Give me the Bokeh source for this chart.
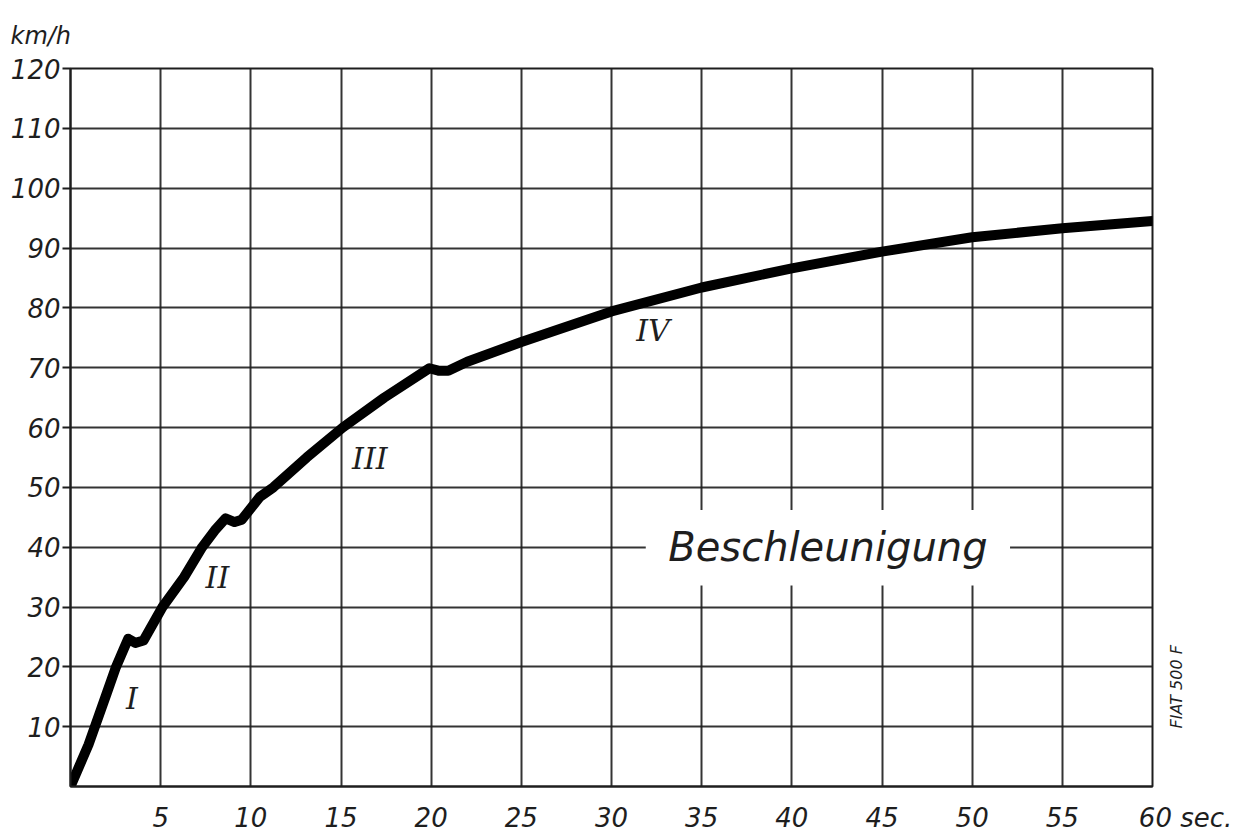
from bokeh.plotting import figure
from bokeh.models import Range1d, FixedTicker, BoxAnnotation, ColumnDataSource, LinearAxis, Title, Label
from bokeh.core.properties import value
from bokeh.embed import file_html
from bokeh.resources import INLINE
import math

# Data (time in seconds, speed in km/h)
time_s = [0, 1.0, 2.0, 2.5, 3.0, 3.2, 3.6, 4.05, 5.1, 6.3, 7.3, 8.0, 8.6, 9.1, 9.5, 10.5, 11.25, 13.1, 15.1, 17.4, 19.9, 20.4, 20.95, 22.0, 25, 30, 35, 40, 45, 50, 55, 60]
speed_kmh = [0, 7.0, 15.5, 19.8, 23.3, 24.7, 24.0, 24.4, 30.0, 35.0, 40.0, 42.8, 44.8, 44.2, 44.6, 48.4, 50.0, 55.0, 60.0, 65.0, 69.9, 69.5, 69.5, 71.0, 74.3, 79.4, 83.4, 86.6, 89.4, 91.8, 93.3, 94.5]

x_ticks = [5, 10, 15, 20, 25, 30, 35, 40, 45, 50, 55, 60]
y_ticks = [10, 20, 30, 40, 50, 60, 70, 80, 90, 100, 110, 120]
x_unit = "sec."
y_unit = "km/h"
chart_title = "Beschleunigung"
model_note = "FIAT 500 F"
note_pos = [9.7]

gear_labels = ["I", "II", "III", "IV"]
gear_x = [3.4, 8.15, 16.6, 32.3]
gear_y = [14.7, 34.9, 54.8, 76.2]

FONT = "DejaVu Sans"
INK = "#1e1e1e"

p = figure(width=1260, height=838, output_backend="svg", toolbar_location=None,
           x_range=Range1d(0, 60), y_range=Range1d(0, 120),
           min_border_left=70, min_border_right=108, min_border_top=68, min_border_bottom=52)
p.background_fill_color = "white"
p.border_fill_color = "white"
p.outline_line_color = INK
p.outline_line_width = 2

for ax in (p.xaxis[0], p.yaxis[0]):
    ax.major_label_text_font = FONT
    ax.major_label_text_font_style = "italic"
    ax.major_label_text_font_size = "26px"
    ax.major_label_text_color = INK
    ax.axis_line_color = INK
    ax.axis_line_width = 2
    ax.minor_tick_line_color = None
    ax.major_tick_line_color = INK
    ax.major_tick_line_width = 2

p.xaxis.ticker = FixedTicker(ticks=x_ticks)
p.yaxis.ticker = FixedTicker(ticks=y_ticks)
p.xaxis.major_tick_out = 0
p.xaxis.major_tick_in = 0
p.xaxis.major_label_standoff = 16
# last x label carries the unit; figure-space padding keeps "60" under its gridline
p.xaxis.major_label_overrides = {60: "\u2007\u2007\u2007\u2007" + "60 " + x_unit}
p.yaxis.major_tick_out = 8
p.yaxis.major_tick_in = 0
p.yaxis.major_label_standoff = 2

p.xgrid.ticker = FixedTicker(ticks=x_ticks)
p.ygrid.ticker = FixedTicker(ticks=y_ticks)
for g in (p.xgrid[0], p.ygrid[0]):
    g.grid_line_color = INK
    g.grid_line_width = 2
    g.grid_line_alpha = 0.9

# unit of the y axis, above the top-left corner
p.add_layout(Title(text=y_unit, align="left", offset=-60, standoff=37, text_font=FONT,
                   text_font_style="italic", text_font_size="24px", text_color=INK), "above")

# small vertical note at the right of the frame
note_axis = LinearAxis(ticker=FixedTicker(ticks=note_pos), major_label_overrides={note_pos[0]: model_note},
                       major_label_orientation=math.pi / 2, axis_line_color=None,
                       major_tick_line_color=None, minor_tick_line_color=None,
                       major_label_standoff=18, major_label_text_font=FONT,
                       major_label_text_font_style="italic", major_label_text_font_size="16px",
                       major_label_text_color=INK)
p.add_layout(note_axis, "right")

# white patch behind the title text (breaks the grid)
p.add_layout(BoxAnnotation(left=31.9, right=52.1, bottom=33.6, top=46.2,
                           fill_color="white", fill_alpha=1.0, line_color=None, level="underlay"))

src = ColumnDataSource(dict(x=time_s, y=speed_kmh))
p.line("x", "y", source=src, line_color="black", line_width=10, line_join="round", line_cap="round")

gsrc = ColumnDataSource(dict(x=gear_x, y=gear_y, t=gear_labels))
p.text("x", "y", text="t", source=gsrc, text_font=value("DejaVu Serif"), text_font_style="italic",
       text_font_size="30px", text_align="center", text_baseline="middle", text_color=INK)

p.add_layout(Label(x=42.0, y=40, text=chart_title, text_font=FONT, text_font_style="italic",
                   text_font_size="40px", text_align="center", text_baseline="middle", text_color=INK))

open("out.html", "w").write(file_html(p, INLINE))
